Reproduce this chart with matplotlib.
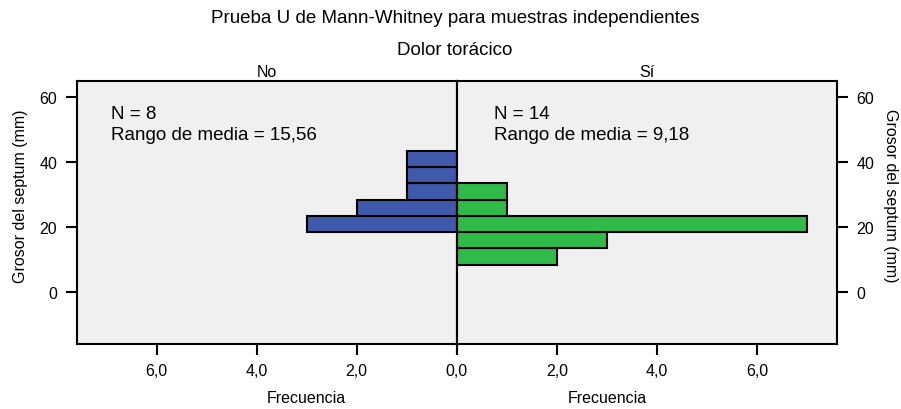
import numpy as np
import matplotlib
matplotlib.use('Agg')
import matplotlib.pyplot as plt

plt.rcParams['font.family'] = ['Liberation Sans', 'DejaVu Sans']

# lower edge of each 5 mm bin (Grosor del septum)
bin_lower = [8.5, 13.5, 18.5, 23.5, 28.5, 33.5, 38.5]
bin_width = 5
freq_no = [0, 0, 3, 2, 1, 1, 1]
freq_si = [2, 3, 7, 1, 1, 0, 0]
groups = ['No', 'Sí']
stats = ['N = 8\nRango de media = 15,56', 'N = 14\nRango de media = 9,18']
y_ticks = [0, 20, 40, 60]
x_ticks = [0, 2, 4, 6]
x_ticklabels = ['0,0', '2,0', '4,0', '6,0']

fig = plt.figure(figsize=(9.01, 4.10), dpi=100)
ax_l = fig.add_axes([0.0851, 0.1585, 0.4218, 0.6408])
ax_r = fig.add_axes([0.5069, 0.1585, 0.4224, 0.6408])

colors = ['#3f59ad', '#2fba4a']
for ax, freq, col in zip([ax_l, ax_r], [freq_no, freq_si], colors):
    y = [b for b, f in zip(bin_lower, freq) if f > 0]
    w = [f for f in freq if f > 0]
    ax.barh(y, w, height=bin_width, align='edge', color=col,
            edgecolor='black', linewidth=1.5)
    ax.set_facecolor('#f0f0f0')
    ax.set_ylim(-15.9, 64.9)
    ax.set_yticks(y_ticks)
    ax.set_xticks(x_ticks)
    ax.set_xticklabels(x_ticklabels)
    for s in ax.spines.values():
        s.set_linewidth(1.5)
    ax.tick_params(length=8, width=1.5, labelsize=11.5, pad=6)
    ax.set_xlabel('Frecuencia', fontsize=11.5)

# the shared 0,0 label is drawn only once
ax_l.set_xticklabels(['', '2,0', '4,0', '6,0'])

ax_l.set_xlim(7.6, 0)
ax_r.set_xlim(0, 7.6)
ax_l.xaxis.set_label_coords(1 - 3 / 7.6, -0.175)
ax_r.xaxis.set_label_coords(3 / 7.6, -0.175)

ax_l.set_ylabel('Grosor del septum (mm)', fontsize=11.5, va='center')
ax_l.yaxis.set_label_coords(-0.149, 0.567)
ax_r.yaxis.tick_right()
ax_r.yaxis.set_label_position('right')
ax_r.set_ylabel('Grosor del septum (mm)', fontsize=11.5, rotation=270, va='center')
ax_r.yaxis.set_label_coords(1.141, 0.567)

ax_l.set_title(groups[0], fontsize=11.5, pad=4)
ax_r.set_title(groups[1], fontsize=11.5, pad=4)

ax_l.text(0.09, 0.91, stats[0], transform=ax_l.transAxes, fontsize=13.5,
          va='top', linespacing=1.3)
ax_r.text(0.099, 0.91, stats[1], transform=ax_r.transAxes, fontsize=13.5,
          va='top', linespacing=1.3)

fig.text(0.505, 0.956, 'Prueba U de Mann-Whitney para muestras independientes',
         ha='center', va='center', fontsize=13.5)
fig.text(0.505, 0.878, 'Dolor torácico', ha='center', va='center', fontsize=13.5)

fig.savefig('out.png', dpi=100)
